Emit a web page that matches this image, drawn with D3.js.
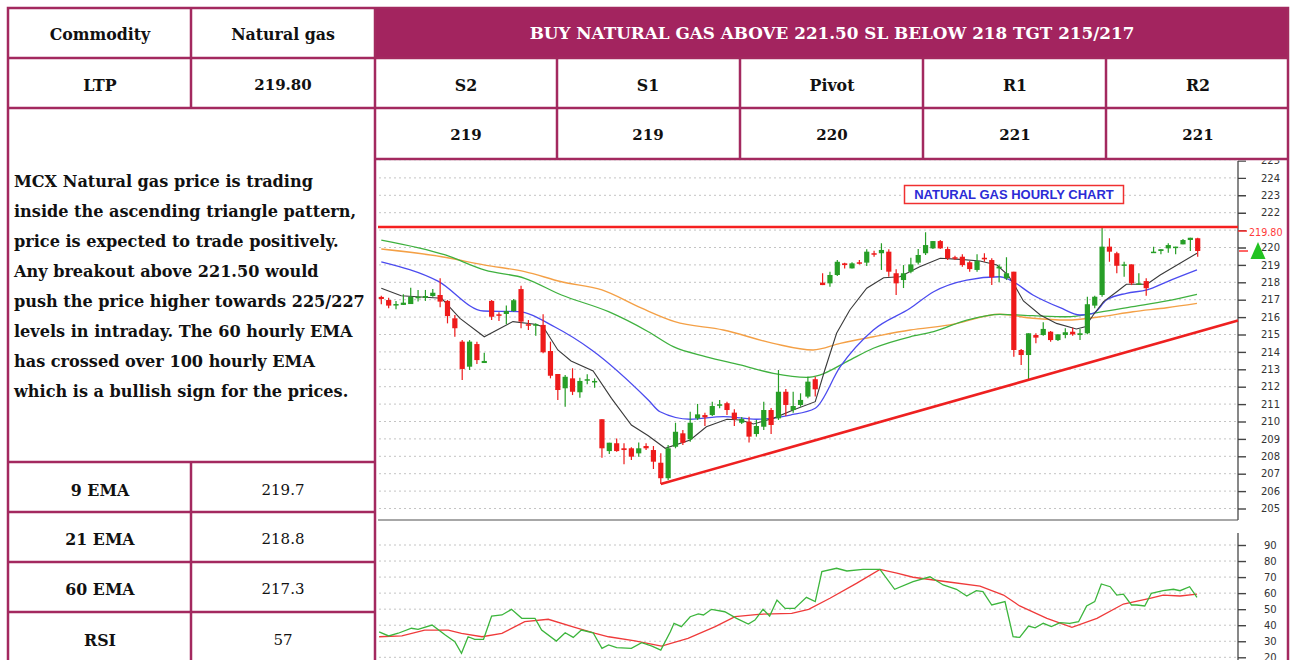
<!DOCTYPE html>
<html><head><meta charset="utf-8">
<script src="https://cdn.jsdelivr.net/npm/d3@7"></script>
<style>html,body{margin:0;padding:0;background:#fff;overflow:hidden}</style>
</head><body><svg id="c" width="1291" height="660"></svg>
<script>
// ---------------- DATA ----------------
const open = [217.16,216.98,216.70,216.70,216.75,217.11,217.11,217.21,217.27,216.93,
215.93,214.59,213.15,214.45,213.36,216.93,216.16,216.18,216.35,217.61,
215.59,215.55,215.55,214.05,212.73,211.91,212.48,211.68,212.37,212.29,
210.13,208.30,208.75,208.46,208.46,208.17,208.59,208.36,207.63,206.74,
208.55,209.32,208.98,210.18,210.37,210.37,210.91,211.05,210.51,209.93,
209.99,209.28,209.70,210.66,210.18,211.71,210.66,210.95,211.43,212.43,
217.98,217.94,218.42,219.09,218.80,219.15,219.13,219.67,219.67,219.76,
218.52,218.13,218.61,219.13,219.67,219.95,220.37,219.91,219.44,219.47,
219.15,218.71,219.41,219.28,218.80,218.23,218.61,214.11,213.82,214.97,
214.97,215.16,214.68,214.97,215.16,214.97,215.07,216.66,217.27,220.05,
219.67,218.95,219.03,217.89,218.07,219.70,219.80,219.95,219.99,220.18,
220.43,220.53];
const high = [217.23,217.11,216.93,217.31,217.69,217.56,217.56,217.61,218.23,216.98,
216.12,214.68,214.68,214.59,213.95,216.98,216.28,216.66,217.04,217.80,
215.83,215.64,216.16,214.59,212.73,212.67,213.06,212.52,212.71,212.48,
210.13,208.78,209.03,208.75,208.52,208.80,208.75,208.59,208.17,208.65,
209.93,209.51,210.56,211.01,210.51,211.14,211.24,211.14,210.70,210.26,
210.28,210.09,211.14,210.78,212.96,211.87,211.71,211.62,212.57,212.57,
218.52,218.61,219.28,219.13,219.15,219.28,219.90,219.82,220.24,219.90,
218.75,218.99,219.41,219.91,220.87,220.37,220.43,220.05,219.53,219.61,
219.22,219.61,219.67,219.38,219.03,219.44,218.61,214.17,215.07,215.07,
215.70,215.20,215.01,215.36,215.39,215.32,217.17,217.23,221.20,220.53,
219.76,219.18,219.03,218.52,218.23,220.05,219.90,220.24,220.05,220.49,
220.56,220.56];
const low = [216.74,216.51,216.45,216.70,216.75,216.89,216.93,217.17,216.56,215.64,
214.87,212.38,212.96,213.30,213.36,215.83,215.78,215.59,216.31,215.36,
215.26,214.93,213.92,212.48,211.24,210.85,211.52,211.37,212.14,211.94,
207.92,208.13,208.26,207.54,207.79,207.98,208.36,207.27,206.41,206.64,
208.46,208.65,208.84,210.09,209.74,210.32,210.76,210.37,209.74,209.86,
208.80,209.13,209.51,209.28,210.09,210.32,210.51,210.85,211.33,211.43,
217.84,217.75,218.36,218.80,218.80,219.03,218.94,219.47,218.71,218.32,
217.27,217.67,218.52,219.03,219.57,219.91,219.91,219.28,219.28,218.90,
218.61,218.61,219.18,217.84,218.00,218.13,213.72,213.25,212.39,214.49,
214.93,214.59,214.63,214.78,214.93,214.68,215.01,216.51,217.17,219.18,
218.52,218.32,217.84,217.84,217.23,219.70,219.61,219.70,219.61,220.18,
219.80,219.47];
const close = [217.04,216.66,216.75,216.83,217.17,217.17,217.21,217.40,216.89,216.06,
215.36,213.02,214.59,213.53,213.48,216.02,216.08,216.35,216.97,215.74,
215.51,215.59,213.98,212.63,211.81,212.57,211.71,212.33,212.43,212.33,
208.46,208.78,208.30,208.36,207.98,208.46,208.46,207.69,206.74,208.46,
209.41,208.78,209.93,210.41,210.24,210.89,210.99,210.66,210.13,210.14,
209.13,209.74,210.66,209.80,211.71,210.95,210.89,211.24,212.29,211.85,
217.84,218.42,219.18,218.99,219.09,219.09,219.76,219.61,219.86,218.61,
217.94,218.52,219.03,219.57,220.14,220.37,219.95,219.38,219.38,218.99,
218.76,219.22,219.32,218.29,218.90,218.52,214.11,213.82,215.07,214.82,
215.32,214.68,215.01,215.13,215.01,215.07,216.74,217.17,220.05,219.76,
218.95,219.03,217.94,217.94,217.66,219.76,219.90,220.14,220.05,220.43,
220.56,219.80];

// EMA lines: [candle index, value]
const ema9 = [[1,217.66],[3.7,217.23],[9.2,217.08],[11.7,215.93],[15,214.87],[18.9,215.74],[21.9,215.59],[23,215.45],[25,214.11],[26.8,213.48],[29.8,212.90],[32.3,211.33],[35,209.80],[37.3,209.18],[39.6,208.46],[43,208.94],[45.2,209.70],[48,210.13],[49.8,210.09],[51.6,209.86],[54.3,210.18],[57,210.66],[60,211.14],[61.3,212.96],[62.9,215.07],[64.7,216.41],[67,217.66],[69.3,218.26],[71.5,218.32],[74.2,218.90],[77,219.38],[79.7,219.32],[82.4,219.22],[84.7,218.99],[86.2,218.42],[87.2,217.75],[88.3,216.93],[90.6,216.12],[92.8,215.64],[95.5,215.32],[96.7,215.45],[97.8,216.12],[99.2,216.89],[101,217.46],[102.3,217.89],[105.1,217.89],[106.9,218.42],[109.6,219.09],[111.9,219.67]];
const ema21 = [[1,219.18],[8.7,218.07],[14.9,216.35],[19.6,216.31],[24.6,215.43],[29.6,214.11],[37.3,211.24],[38.9,210.56],[43,210.13],[47.5,210.28],[52,210.13],[56.6,210.37],[60,210.76],[63.4,213.15],[67.9,215.26],[72.9,216.51],[76.1,217.46],[80.6,218.13],[85.1,218.32],[86.5,218.13],[89.6,217.27],[93.3,216.54],[96,216.12],[97.8,216.22],[99.6,216.98],[102.3,217.37],[105.1,217.56],[107.8,218.03],[111.9,218.71]];
const ema60 = [[1,220.43],[9.7,219.57],[15.1,218.70],[20.5,218.23],[25.5,217.27],[31.9,216.31],[37.3,215.16],[40.7,214.30],[45.2,213.72],[49.8,213.25],[54.3,212.77],[58.8,212.54],[60.6,212.67],[64.3,213.44],[67.9,214.21],[72.9,214.87],[76.1,215.16],[80.6,215.83],[85.1,216.16],[89.6,216.08],[94.2,216.02],[98.7,216.28],[103.2,216.60],[107.8,216.93],[111.9,217.31]];
const ema100 = [[1,219.91],[9.2,219.47],[15.1,218.99],[20.5,218.61],[25.5,218.03],[31,217.56],[36.4,216.51],[40.9,215.74],[47.5,215.26],[54.3,214.49],[59.7,214.11],[63.4,214.49],[67.9,214.87],[72.9,215.26],[78.3,215.55],[85.1,216.16],[89.6,215.93],[94.2,215.83],[98.7,216.02],[103.2,216.31],[107.8,216.54],[111.9,216.79]];

// RSI and its signal line: [candle index, value]
const rsi = [[0.7,35.9],[2,33.3],[3.3,35.0],[5.1,38.1],[6,37.4],[7.9,40.1],[9.7,33.9],[11,29.7],[11.9,22.5],[12.8,32.8],[13.7,31.2],[14.9,31.2],[16,45.7],[17.4,46.4],[18.7,49.9],[20.1,44.3],[21.9,44.3],[22.8,37.0],[24.8,30.1],[26,35.3],[27.1,32.4],[28.2,37.0],[29.8,35.3],[31,25.6],[31.9,27.7],[33,26.0],[35,25.6],[36.4,29.1],[37.8,27.0],[39,24.5],[40.3,35.9],[40.8,41.2],[41.8,39.1],[43,45.3],[44.1,47.0],[44.8,46.4],[45.9,49.9],[47.7,48.4],[49.3,44.3],[50.9,40.7],[51.8,43.2],[52.9,49.9],[53.8,45.7],[54.8,55.7],[55.9,50.5],[57.2,50.5],[58.8,57.4],[60,54.7],[60.9,73.4],[62.9,75.5],[64.3,73.8],[66.5,74.8],[68.8,74.8],[70.8,62.4],[73.3,67.1],[75.6,70.2],[77.4,65.1],[79.2,62.4],[80.6,58.2],[81.9,61.5],[82.8,60.9],[84,52.6],[85.8,54.7],[86.9,32.8],[87.8,32.4],[89,39.5],[89.9,38.4],[91,41.2],[92.1,39.1],[93.3,41.6],[94.6,41.2],[95.8,42.2],[96.9,52.0],[98,54.7],[98.9,65.7],[100.1,64.0],[101,58.8],[101.9,59.4],[103,52.6],[103.7,52.6],[104.8,52.0],[105.7,59.9],[107.3,61.5],[108.7,62.4],[109.6,61.5],[110.9,64.0],[111.9,57.4]];
const rsiSignal = [[0.7,32.8],[3.8,33.3],[6.9,37.0],[10.1,37.0],[11.9,34.9],[14.7,32.8],[17.4,34.9],[20.5,42.2],[23.7,43.7],[27.3,38.7],[30.1,34.9],[31.9,32.8],[35.5,30.3],[39.1,27.0],[42.7,31.8],[46.4,39.1],[49.1,45.3],[52.3,46.8],[56.8,47.4],[59.1,49.9],[62,56.8],[65.6,66.1],[68.8,74.8],[71.1,72.4],[73.3,69.9],[77.9,67.1],[82.4,64.4],[85.6,58.8],[87.8,52.0],[91.5,44.3],[94.9,38.7],[98.3,44.3],[101.9,53.2],[105.5,56.8],[107.3,58.8],[109.6,58.2],[111.9,59.4]];

// Trend lines
const trendIdx = [39, 117.48];
const trendVal = [206.41, 215.80];
const resistance = 221.18;
const ltp = 219.80;

// Tick labels
const priceTicks = [205,206,207,208,209,210,211,212,213,214,215,216,217,218,219,220,221,222,223,224,225];
const priceLabelsHidden = [221];   // covered by the LTP label in the reference
const rsiTicks = [20,30,40,50,60,70,80,90];

// Table texts
const headerText = "BUY NATURAL GAS ABOVE 221.50 SL BELOW 218 TGT 215/217";
const levelNames = ["S2","S1","Pivot","R1","R2"];
const levelValues = ["219","219","220","221","221"];
const indicatorNames = ["9 EMA","21 EMA","60 EMA","RSI"];
const indicatorValues = ["219.7","218.8","217.3","57"];
const commentary = [
  "MCX Natural gas price is trading",
  "inside the ascending triangle pattern,",
  "price is expected to trade positively.",
  "Any breakout above 221.50 would",
  "push the price higher towards 225/227",
  "levels in intraday. The 60 hourly EMA",
  "has crossed over 100 hourly EMA",
  "which is a bullish sign for the prices."
];

// ---------------- DRAW ----------------
const svg = d3.select("#c");
const BORDER = "#a3295f";
const FILL = "#a3245f";
const SERIF = "'DejaVu Serif', 'Liberation Serif', serif";

svg.append("rect").attr("width",1291).attr("height",660).attr("fill","#fff");

// ---- table ----
const T = svg.append("g");
T.append("rect").attr("x",375).attr("y",8).attr("width",913).attr("height",50).attr("fill",FILL);
const TL = T.append("g").attr("stroke",BORDER).attr("stroke-width",2.5);
const hl = [[58,8,1288],[108,8,1288],[159,375,1288],[462,8,375],[512,8,375],[562,8,375],[612,8,375]];
hl.forEach(([yy,x1,x2])=>TL.append("line").attr("x1",x1).attr("x2",x2).attr("y1",yy).attr("y2",yy));
const vl = [[191,8,108],[191,462,680],[375,8,680],[557,58,159],[740,58,159],[923,58,159],[1106,58,159]];
vl.forEach(([xx,y1,y2])=>TL.append("line").attr("x1",xx).attr("x2",xx).attr("y1",y1).attr("y2",y2));
TL.append("rect").attr("x",8).attr("y",8).attr("width",1280).attr("height",700).attr("fill","none");

function cellText(txt, cx, cy, opts={}) {
  return svg.append("text").attr("x",cx).attr("y",cy).attr("dy","0.35em")
    .attr("text-anchor", opts.anchor || "middle")
    .attr("font-family",SERIF).attr("font-size",opts.size||15.8)
    .attr("font-weight", opts.weight||"bold")
    .attr("fill", opts.fill||"#111").text(txt);
}
cellText("Commodity",100,34);
cellText("Natural gas",283,34);
cellText(headerText,832,33,{fill:"#fff",size:16.8});
cellText("LTP",100,85);
cellText(ltp.toFixed(2),283,85,{size:15});
const levelX = [466,648,832,1015,1198];
levelNames.forEach((n,i)=>cellText(n,levelX[i],85));
levelValues.forEach((v,i)=>cellText(v,levelX[i],135,{size:15}));
const indY = [490,539,589,640];
indicatorNames.forEach((n,i)=>cellText(n,100,indY[i]));
indicatorValues.forEach((v,i)=>cellText(v,283,indY[i],{weight:"normal",size:15}));
commentary.forEach((line,i)=>cellText(line,14,181+i*30,{anchor:"start",size:16.1}));

// ---- chart ----
svg.append("clipPath").attr("id","cc").append("rect")
  .attr("x",377).attr("y",160.5).attr("width",910).attr("height",500);
const C = svg.append("g").attr("clip-path","url(#cc)");

const x = d3.scaleLinear().domain([1,112]).range([381.3,1197.7]);
const y = d3.scaleLinear().domain([205,225]).range([508.5,160.5]);
const yr = d3.scaleLinear().domain([20,90]).range([657.3,545]);
const PL = 378, PR = 1238;

// grids
C.append("g").selectAll("line").data(priceTicks).join("line")
  .attr("x1",PL+1).attr("x2",PR-2).attr("y1",d=>y(d)).attr("y2",d=>y(d))
  .attr("stroke","#c4c4c4").attr("stroke-width",1).attr("stroke-dasharray","2,3");
C.append("g").selectAll("line").data(rsiTicks).join("line")
  .attr("x1",PL+1).attr("x2",PR-2).attr("y1",d=>yr(d)).attr("y2",d=>yr(d))
  .attr("stroke","#c4c4c4").attr("stroke-width",1).attr("stroke-dasharray","2,3");

// panel frame
C.append("line").attr("x1",PL).attr("x2",PR).attr("y1",520).attr("y2",520).attr("stroke","#8a8a8a").attr("stroke-width",1.6);
C.append("line").attr("x1",PR).attr("x2",PR).attr("y1",161).attr("y2",520).attr("stroke","#555").attr("stroke-width",1.4);
C.append("line").attr("x1",PR).attr("x2",PR).attr("y1",533).attr("y2",662).attr("stroke","#555").attr("stroke-width",1.4);

// axes
const ya = C.append("g").attr("transform",`translate(${PR},0)`)
  .call(d3.axisRight(y).tickValues(priceTicks).tickSize(8).tickPadding(15)
    .tickFormat(d=>priceLabelsHidden.includes(d)?"":d3.format("d")(d)));
const ra = C.append("g").attr("transform",`translate(${PR},0)`)
  .call(d3.axisRight(yr).tickValues(rsiTicks).tickSize(8).tickPadding(18).tickFormat(d3.format("d")));
[ya,ra].forEach(a=>{
  a.select(".domain").remove();
  a.selectAll(".tick line").attr("stroke","#444").attr("stroke-width",1.4);
  a.selectAll(".tick text").attr("font-family","'DejaVu Sans', sans-serif").attr("font-size",10).attr("fill","#333");
});

// EMA lines
const ln = d3.line().x(d=>x(d[0])).y(d=>y(d[1]));
const lnS = d3.line().x(d=>x(d[0])).y(d=>y(d[1])).curve(d3.curveMonotoneX);
C.append("path").datum(ema100).attr("d",lnS).attr("fill","none").attr("stroke","#f4a046").attr("stroke-width",1.4);
C.append("path").datum(ema60).attr("d",lnS).attr("fill","none").attr("stroke","#3fb13f").attr("stroke-width",1.3);
C.append("path").datum(ema21).attr("d",lnS).attr("fill","none").attr("stroke","#4b4bef").attr("stroke-width",1.3);
C.append("path").datum(ema9).attr("d",ln).attr("fill","none").attr("stroke","#3a3a3a").attr("stroke-width",1.1);

// candles
const idx = d3.range(open.length);
const RED = "#ee1b1b", GRN = "#279e27";
const cg = C.append("g");
cg.selectAll("line").data(idx).join("line")
  .attr("x1",i=>x(i+1)).attr("x2",i=>x(i+1))
  .attr("y1",i=>y(high[i])).attr("y2",i=>y(low[i]))
  .attr("stroke",i=>close[i]>=open[i]?GRN:RED).attr("stroke-width",1.2);
cg.selectAll("rect").data(idx).join("rect")
  .attr("x",i=>x(i+1)-2.6).attr("width",5.2)
  .attr("y",i=>y(Math.max(open[i],close[i])))
  .attr("height",i=>Math.max(1.5,Math.abs(y(open[i])-y(close[i]))))
  .attr("fill",i=>close[i]>=open[i]?GRN:RED);

// trend lines
C.append("line").attr("x1",PL).attr("x2",PR).attr("y1",y(resistance)).attr("y2",y(resistance))
  .attr("stroke","#f52020").attr("stroke-width",2.6);
C.append("line").attr("x1",x(trendIdx[0])).attr("x2",x(trendIdx[1]))
  .attr("y1",y(trendVal[0])).attr("y2",y(trendVal[1]))
  .attr("stroke","#ee2020").attr("stroke-width",2.6);

// LTP marker
const lblY = y(ltp) - 18;
C.append("line").attr("x1",PR).attr("x2",PR+9).attr("y1",lblY-2).attr("y2",lblY-2).attr("stroke","#f33").attr("stroke-width",1.4);
C.append("text").attr("x",PR+11).attr("y",lblY).attr("dy","0.35em").attr("font-family","'DejaVu Sans', sans-serif")
  .attr("font-size",9.6).attr("fill","#ff3a3a").text(ltp.toFixed(2));
C.append("line").attr("x1",PR+1).attr("x2",PR+10).attr("y1",y(ltp)).attr("y2",y(ltp)).attr("stroke","#f66").attr("stroke-width",2.2);
const tx = PR+20, ty = y(ltp);
C.append("path").attr("d",`M${tx},${ty-9} L${tx-7.5},${ty+8} L${tx+7.5},${ty+8} Z`).attr("fill","#22c322");

// RSI
const lr = d3.line().x(d=>x(d[0])).y(d=>yr(d[1]));
C.append("path").datum(rsiSignal).attr("d",lr).attr("fill","none").attr("stroke","#ef3a3a").attr("stroke-width",1.3);
C.append("path").datum(rsi).attr("d",lr).attr("fill","none").attr("stroke","#3cb53c").attr("stroke-width",1.3);

// title box
const tb = C.append("g");
tb.append("rect").attr("x",904.5).attr("y",185.5).attr("width",219).attr("height",18)
  .attr("fill","#fff").attr("stroke","#f03030").attr("stroke-width",1.5);
tb.append("text").attr("x",1014).attr("y",194.5).attr("dy","0.36em").attr("text-anchor","middle")
  .attr("font-family","'Liberation Sans', Arial, sans-serif").attr("font-weight","bold").attr("font-size",13)
  .attr("fill","#2b2bd6").text("NATURAL GAS HOURLY CHART");
</script></body></html>
